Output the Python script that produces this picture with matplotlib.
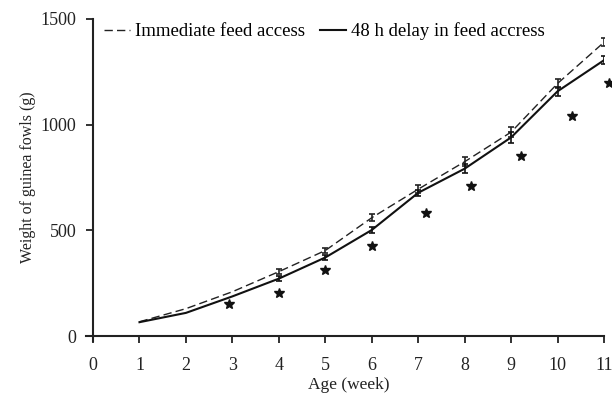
import numpy as np
import matplotlib
matplotlib.use("Agg")
import matplotlib.pyplot as plt

weeks = [1, 2, 3, 4, 5, 6, 7, 8, 9, 10, 11]
immediate = [68, 130, 210, 305, 405, 560, 695, 825, 965, 1195, 1390]
delayed = [66, 110, 188, 272, 372, 502, 678, 792, 940, 1158, 1305]
err_weeks = [4, 5, 6, 7, 8, 9, 10, 11]
immediate_err = [13, 14, 17, 18, 22, 25, 22, 20]
delayed_err = [11, 12, 15, 15, 20, 25, 22, 20]
star_x = [2.93, 4.0, 5.0, 6.0, 7.17, 8.14, 9.22, 10.3, 11.1]
star_y = [150, 203, 312, 426, 584, 711, 852, 1041, 1199]
xticks = list(range(0, 12))
yticks = [0, 500, 1000, 1500]

plt.rcParams['font.family'] = ['Liberation Serif', 'DejaVu Serif']

fig = plt.figure(figsize=(6.12, 3.95), dpi=100)
ax = fig.add_axes([0.152, 0.149, 0.835, 0.803])

ax.plot(weeks, immediate, color='#222222', lw=1.0, ls=(0, (6, 3)),
        label='Immediate feed access')
ax.plot(weeks, delayed, color='#111111', lw=1.5, ls='-',
        label='48 h delay in feed accress')

idx = [weeks.index(w) for w in err_weeks]
ax.errorbar(err_weeks, [immediate[i] for i in idx], yerr=immediate_err,
            fmt='none', ecolor='#222222', elinewidth=1.2, capsize=2.5, capthick=1.2)
ax.errorbar(err_weeks, [delayed[i] for i in idx], yerr=delayed_err,
            fmt='none', ecolor='#111111', elinewidth=1.2, capsize=2.5, capthick=1.2)

ax.plot(star_x, star_y, ls='none', marker='*', color='#111111', ms=7.5,
        clip_on=False)

ax.set_xlim(0, 11)
ax.set_ylim(0, 1500)
ax.set_xticks(xticks)
ax.set_yticks(yticks)
ax.spines['top'].set_visible(False)
ax.spines['right'].set_visible(False)
for s in ('left', 'bottom'):
    ax.spines[s].set_linewidth(1.5)
    ax.spines[s].set_color('#222222')
ax.spines['left'].set_bounds(-25, 1500)
ax.spines['bottom'].set_bounds(-0.15, 11)
ax.tick_params(axis='both', direction='out', length=5, width=1.3,
               labelsize=13, colors='#222222', pad=7)
ax.tick_params(axis='x', pad=10)
ax.set_xlabel('Age (week)', fontsize=12.5, color='#222222', labelpad=2)
ax.set_ylabel('Weight of guinea fowls (g)', fontsize=11.5, color='#222222', labelpad=3)

ax.legend(loc='upper left', bbox_to_anchor=(0.0, 1.025), ncol=2, frameon=False,
          fontsize=13.5, handlelength=1.35, handletextpad=0.3, columnspacing=0.8,
          borderaxespad=0.2)

fig.savefig('out.png', dpi=100)
